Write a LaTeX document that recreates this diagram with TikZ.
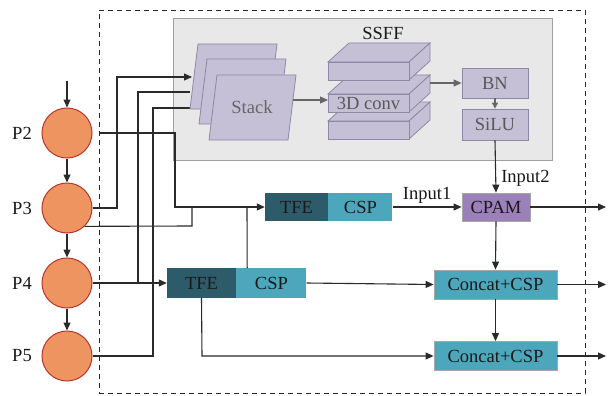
\documentclass[tikz,border=0pt]{standalone}
\usepackage{fontspec}
\setmainfont{Liberation Serif}
\usetikzlibrary{arrows.meta,calc}
\definecolor{circfill}{HTML}{EE9460}
\definecolor{circline}{HTML}{B8352C}
\definecolor{boxgray}{HTML}{E8E8E8}
\definecolor{boxline}{HTML}{A0A0A0}
\definecolor{lav}{HTML}{C5C0D5}
\definecolor{lavline}{HTML}{8E88A8}
\definecolor{tfecol}{HTML}{2E5B69}
\definecolor{cspcol}{HTML}{4DA7BC}
\definecolor{cpamcol}{HTML}{9B80B9}
\definecolor{linecol}{HTML}{2A2A2A}
\begin{document}
\begin{tikzpicture}[x=1pt,y=-1pt,font=\fontsize{18.5}{20}\selectfont,
  conn/.style={draw=linecol,line width=1.1pt},
  arr/.style={conn,-{Triangle[length=8pt,width=7pt]}},
  graycon/.style={draw=black!60,line width=1.1pt},
  grayarr/.style={graycon,-{Triangle[length=8pt,width=7pt]}},
  circ/.style={circle,draw=circline,line width=1pt,fill=circfill,minimum size=50pt,inner sep=0pt},
  lbl/.style={inner sep=0pt,text=black!90},
  blk/.style={inner sep=0pt,text=black!90},
  tfebox/.style={blk,fill=tfecol,minimum height=28pt},
  cspbox/.style={blk,fill=cspcol,minimum height=28pt},
  catbox/.style={blk,fill=cspcol,draw=black!35,line width=0.8pt,minimum width=123pt,minimum height=29pt},
  lavbox/.style={blk,fill=lav,draw=lavline,line width=0.8pt,minimum width=66pt,text=black!65},
  sheet/.style={fill=lav,draw=lavline,line width=0.8pt},
]
\useasboundingbox (0,0) rectangle (616,396);
% frame and SSFF box
\node[draw=black!85,dash pattern=on 5pt off 4pt,line width=0.9pt,minimum width=486pt,minimum height=383pt,inner sep=0pt] (frame) at (342,201.5) {};
\node[draw=boxline,fill=boxgray,line width=0.9pt,minimum width=379pt,minimum height=142pt,inner sep=0pt] (ssff) at (362.5,89) {};
\node[lbl] (ssfflbl) at (383,33) {SSFF};

% circles
\node[circ] (p2) at (67,133) {};
\node[circ] (p3) at (67,208) {};
\node[circ] (p4) at (67,283) {};
\node[circ] (p5) at (67,356) {};
\node[lbl] (l2) at (22,133) {P2};
\node[lbl] (l3) at (22,208) {P3};
\node[lbl] (l4) at (22,283) {P4};
\node[lbl] (l5) at (22,356) {P5};
\coordinate (in2) at (67,81);
\draw[arr] (in2) -- (p2.north);
\draw[arr] (p2) -- (p3);
\draw[arr] (p3) -- (p4);
\draw[arr] (p4) -- (p5);

% blocks
\node[tfebox,minimum width=63pt] (tfe1) at (296.5,207) {TFE};
\node[cspbox,minimum width=64pt,anchor=west] (csp1) at (tfe1.east) {CSP};
\node[tfebox,minimum width=69pt,minimum height=30pt] (tfe2) at (201.5,283) {TFE};
\node[cspbox,minimum width=70pt,minimum height=30pt,anchor=west] (csp2) at (tfe2.east) {CSP};
\node[blk,fill=cpamcol,draw=black!35,line width=0.8pt,minimum width=68pt,minimum height=28pt] (cpam) at (496,207) {CPAM};
\node[catbox] (cat1) at (495.5,284.5) {Concat+CSP};
\node[catbox] (cat2) at (495.5,356) {Concat+CSP};
\node[lavbox,minimum height=30pt] (bn) at (495,83) {BN};
\node[lavbox,minimum height=31pt] (silu) at (495,124.5) {SiLU};

% connectors from the pyramid into the stack (drawn under the sheets)
\coordinate (st1) at (192,77);
\coordinate (st2) at (190,92);
\coordinate (st3) at (190,108);
\draw[arr] (p3.east) -- (117,208) -- (117,77) -- (st1);
\draw[conn] (p4.east) -- (138,283) -- (138,92) -- (st2);
\draw[conn] (p5.east) -- (153,356) -- (153,108) -- (st3);

% stack sheets
\draw[sheet] (190,109) -- (198,44) -- (277,44) -- (269,109) -- cycle;
\draw[sheet] (199,124) -- (207,59) -- (286,59) -- (278,124) -- cycle;
\draw[sheet] (209,140) -- (217,75) -- (296,75) -- (288,140) -- cycle;
\node[blk,text=black!60] (stack) at (252,107) {Stack};

% 3D conv slabs
\foreach \t in {121,94,62}{
  \draw[sheet] (328,\t) -- (349,\t-19) -- (430,\t-19) -- (409,\t) -- cycle;
  \draw[sheet] (409,\t) -- (430,\t-19) -- (430,\t-1) -- (409,\t+18) -- cycle;
  \draw[sheet] (328,\t) rectangle (409,\t+18);
}
\node[blk,text=black!65] (conv) at (368.5,103) {3D conv};

\coordinate (stkout) at (293,100);
\coordinate (convin) at (328,100);
\coordinate (convout) at (430,83);
\draw[grayarr] (stkout) -- (convin);
\draw[grayarr] (convout) -- (bn.west);
\draw[graycon,-{Triangle[length=6pt,width=6pt]}] (bn.south) -- (silu.north);

% remaining connectors
\coordinate (a2) at (99,133);
\draw[arr] (a2) -- (175,133) -- (175,207) -- (tfe1.west);
\draw[conn] (p3.-46) -- (192,226) -- (192,207);
\draw[arr] (p4.east) -- (tfe2.west);
\draw[conn] ($(csp2.north west)+(11,0)$) -- (247,207);
\draw[arr] (tfe2.south) -- (202,356) -- (cat2.west);
\draw[arr] (csp2.east) -- (cat1.west);
\draw[arr] (csp1.east) -- node[lbl,above=3pt] {Input1} (cpam.west);
\draw[arr] (silu.south) -- node[lbl,right=5pt,pos=0.72] {Input2} (cpam.north);
\draw[arr] (cpam.south) -- (cat1.north);
\draw[arr] (cat1.south) -- (cat2.north);
\coordinate (o1) at (606,207);
\coordinate (o2) at (606,284.5);
\coordinate (o3) at (606,356);
\draw[arr] (cpam.east) -- (o1);
\draw[arr] (cat1.east) -- (o2);
\draw[arr] (cat2.east) -- (o3);
\end{tikzpicture}
\end{document}
